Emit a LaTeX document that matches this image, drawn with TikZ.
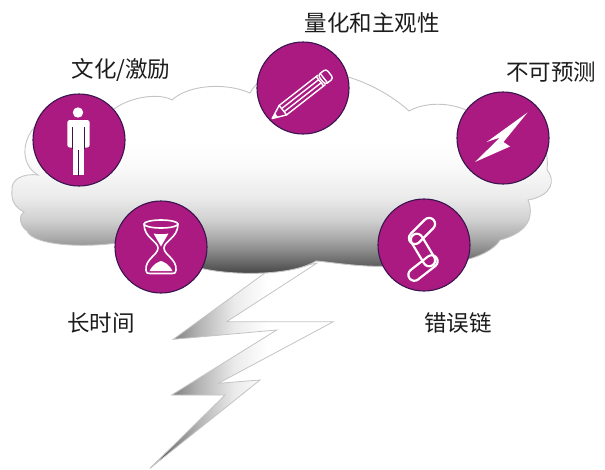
\documentclass[tikz,border=0pt]{standalone}
\usepackage{fontspec}
\newfontfamily\cjk{Noto Sans CJK SC}
\usetikzlibrary{calc}

\definecolor{badge}{RGB}{170,26,128}
\definecolor{badgeedge}{RGB}{58,20,78}
\definecolor{rim}{RGB}{196,196,196}
\definecolor{ink}{RGB}{28,28,28}

% storm cloud: white on top, darkening towards the base
\pgfdeclareverticalshading{cloudshade}{100bp}{color(0bp)=(black!75); color(25bp)=(black!75); color(27bp)=(black!65); color(29bp)=(black!55); color(31bp)=(black!45); color(34bp)=(black!32); color(38bp)=(black!18); color(43bp)=(black!8); color(50bp)=(black!2); color(56bp)=(white); color(100bp)=(white)}
% lightning strike: dark at the left tips, white on the right
\pgfdeclarehorizontalshading{boltshade}{100bp}{color(0bp)=(black!90); color(25bp)=(black!90); color(31bp)=(black!50); color(38bp)=(black!30); color(48bp)=(black!8); color(57bp)=(white); color(100bp)=(white)}

\tikzset{
  badge/.style={circle, fill=badge, draw=badgeedge, line width=1.1pt, minimum size=92pt, inner sep=0pt},
  icon/.style={draw=white, line width=1.4pt, line join=round, line cap=round},
  link/.style={icon, line width=2.2pt, rounded corners=6pt},
  lbl/.style={text=ink, font=\cjk\fontsize{22.5}{22.5}\selectfont, inner sep=0pt},
}

\begin{document}
\begin{tikzpicture}[x=1pt, y=-1pt]
\path[use as bounding box] (0,0) rectangle (605,469);

% lightning strike below the cloud
\path[shading=boltshade, draw=rim, line width=0.8pt, line join=miter]
  (266.7,271.7) -- (173.3,339.3) -- (276.7,330) -- (171.7,395) -- (225,395)
  -- (150,468.3) -- (260,380) -- (218.3,383.3) -- (333.3,321.7)
  -- (226.7,321.7) -- (316.7,263.3) -- cycle;

% cloud
\path[shading=cloudshade, draw=rim, line width=0.9pt]
  (12,190)
  .. controls (11,180) and (22,173) .. (38,175)
  .. controls (20,165) and (18,135) .. (48,115)
  .. controls (65,98) and (95,98) .. (114,109)
  .. controls (132,96) and (160,93) .. (172,100)
  .. controls (188,85) and (225,82) .. (250,93)
  .. controls (268,60) and (330,58) .. (348,77)
  .. controls (372,84) and (395,98) .. (409,111)
  .. controls (425,102) and (450,102) .. (468,111)
  .. controls (505,100) and (552,125) .. (547,170)
  .. controls (556,180) and (552,196) .. (528,200)
  .. controls (534,215) and (530,232) .. (500,240)
  .. controls (488,260) and (440,268) .. (400,266)
  .. controls (360,268) and (332,262) .. (316,261)
  .. controls (292,276) and (232,276) .. (200,268)
  .. controls (170,262) and (135,250) .. (117,243)
  .. controls (80,248) and (33,245) .. (27,231)
  .. controls (20,226) and (18,216) .. (24,212)
  .. controls (14,207) and (11,199) .. (12,190) -- cycle;

% badges
\node[badge] (culture) at (79,140) {};
\node[badge] (quant)   at (303,88) {};
\node[badge] (unpred)  at (503,138) {};
\node[badge] (time)    at (161,247) {};
\node[badge] (chain)   at (424,245) {};

% person
\fill[white] (78,112.5) circle (5.2);
\fill[white, rounded corners=2.5pt] (67.3,120) rectangle (89.7,147.5);
\fill[white] (73.3,145) rectangle (84.3,174.5);
\draw[badge, line width=1.1pt] (72.6,127) -- (72.6,148.5) (84.4,127) -- (84.4,148.5) (78.8,150) -- (78.8,175.5);

% pencil
\begin{scope}[rotate around={38:(301,96)}]
  \draw[icon] (264.5,96) -- (278,90) -- (278,102) -- cycle;
  \fill[white] (264.5,96) -- (270,93.6) -- (270,98.4) -- cycle;
  \draw[icon] (278,90) -- (327,90) (278,102) -- (327,102)
              (278,94) -- (325,94) (278,98) -- (325,98)
              (325,90) -- (325,102);
  \draw[icon, rounded corners=3pt] (327,90) -- (337.5,90) -- (337.5,102) -- (327,102) -- cycle;
  \draw[icon] (330,90) -- (330,102);
\end{scope}

% flash
\fill[white] (527.5,112.5) -- (486.7,142) -- (500,137.5) -- (475,162)
  -- (510,146.5) -- (503.5,142) -- cycle;

% hourglass
\draw[icon, line width=1.6pt] (161,224) ellipse (17 and 4);
\draw[icon, line width=1.6pt]
  (144,224) .. controls (144,238) and (158,241) .. (158,248)
  .. controls (158,255) and (145,259) .. (146,270)
  .. controls (146,273) and (147,273.5) .. (150,273.5) -- (172,273.5)
  .. controls (175,273.5) and (176,273) .. (176,270)
  .. controls (177,259) and (164,255) .. (164,248)
  .. controls (164,241) and (178,238) .. (178,224);
\fill[white] (153.5,233.5) .. controls (158,234.5) and (164,234.5) .. (168.5,233.5)
  -- (161,246.5) -- cycle;
\fill[white] (149.5,271) .. controls (153,264) and (158,262) .. (161,261)
  .. controls (164,262) and (169,264) .. (172.5,271) -- cycle;

% chain links
\draw[link, rotate around={45:(422,231)}]  (406,225) rectangle (438,237);
\draw[link, rotate around={-59:(423,250)}] (405,244) rectangle (441,256);
\draw[link, rotate around={38:(423,268)}]  (406,262) rectangle (440,274);

% labels
\node[lbl] (t1) at (121,70)  {文化/激励};
\node[lbl] (t2) at (372,23)  {量化和主观性};
\node[lbl] (t3) at (551,72)  {不可预测};
\node[lbl] (t4) at (101,323) {长时间};
\node[lbl] (t5) at (458,323) {错误链};
\end{tikzpicture}
\end{document}
